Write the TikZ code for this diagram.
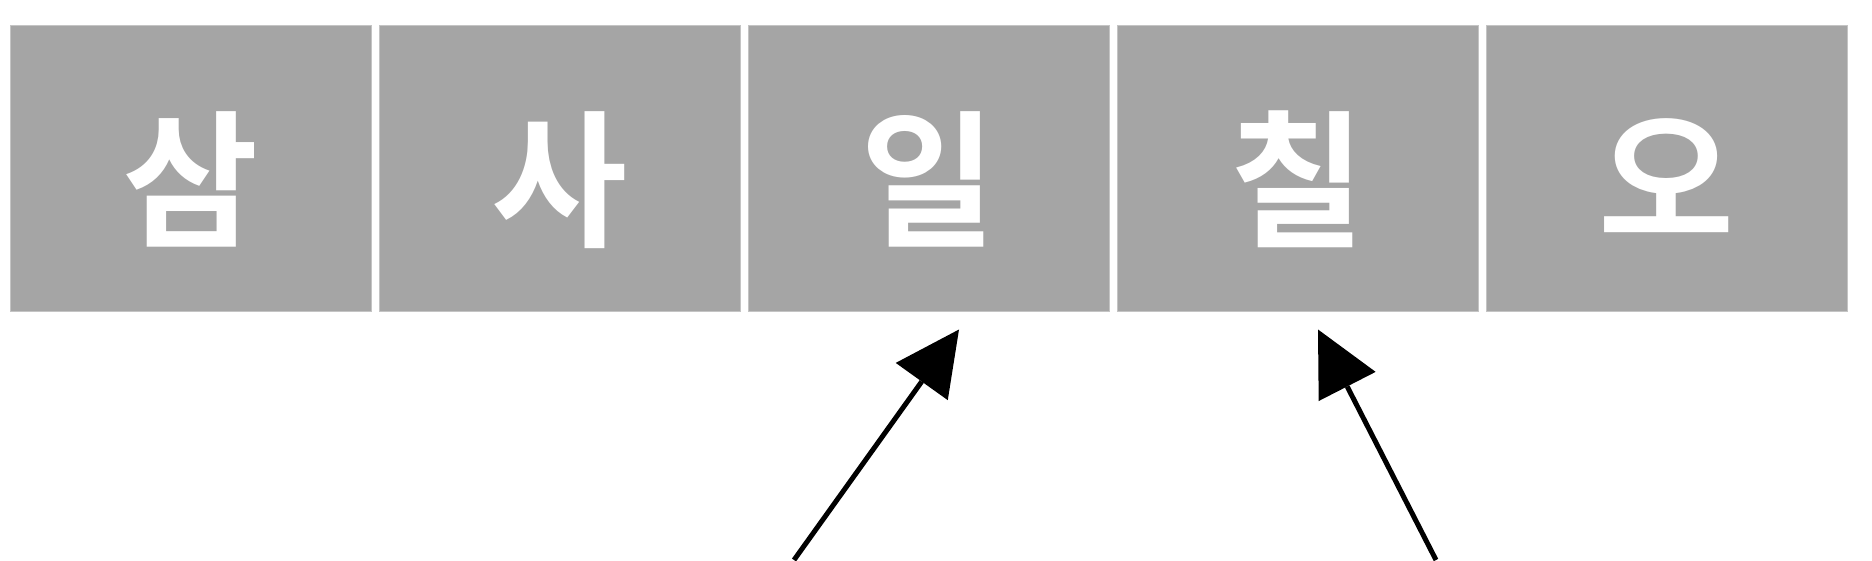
\documentclass[tikz,border=0pt]{standalone}
\usepackage{fontspec}
\newfontfamily\kr{Noto Sans CJK KR}[BoldFont={Noto Sans CJK KR Bold}]
\usetikzlibrary{positioning,arrows.meta}
\definecolor{cellgray}{RGB}{165,165,165}
\definecolor{celledge}{RGB}{196,196,196}

\begin{document}
\begin{tikzpicture}[x=1pt,y=1pt,
	cell/.style={draw=celledge,line width=1pt,fill=cellgray,inner sep=0,outer sep=0,minimum width=361pt,minimum height=286pt,text height=134pt,text depth=0pt,text=white,font=\kr\bfseries\fontsize{148}{148}\selectfont},
	pointer/.style={-{Triangle[length=64pt,width=64pt,line width=0pt]},line width=5pt}]
	\useasboundingbox (0,0) rectangle (1872,560);
	\node[cell] (c1) at (190.6,391.3) {삼};
	\node[cell,right=8pt of c1] (c2) {사};
	\node[cell,right=8pt of c2] (c3) {일};
	\node[cell,right=8pt of c3] (c4) {칠};
	\node[cell,right=8pt of c4] (c5) {오};
	\coordinate (t1) at (794,0);
	\coordinate (t2) at (1436,0);
	\coordinate (h1) at (959,230.5);
	\coordinate (h2) at (1318,230.5);
	\draw[pointer] (t1) -- (h1);
	\draw[pointer] (t2) -- (h2);
\end{tikzpicture}
\end{document}
